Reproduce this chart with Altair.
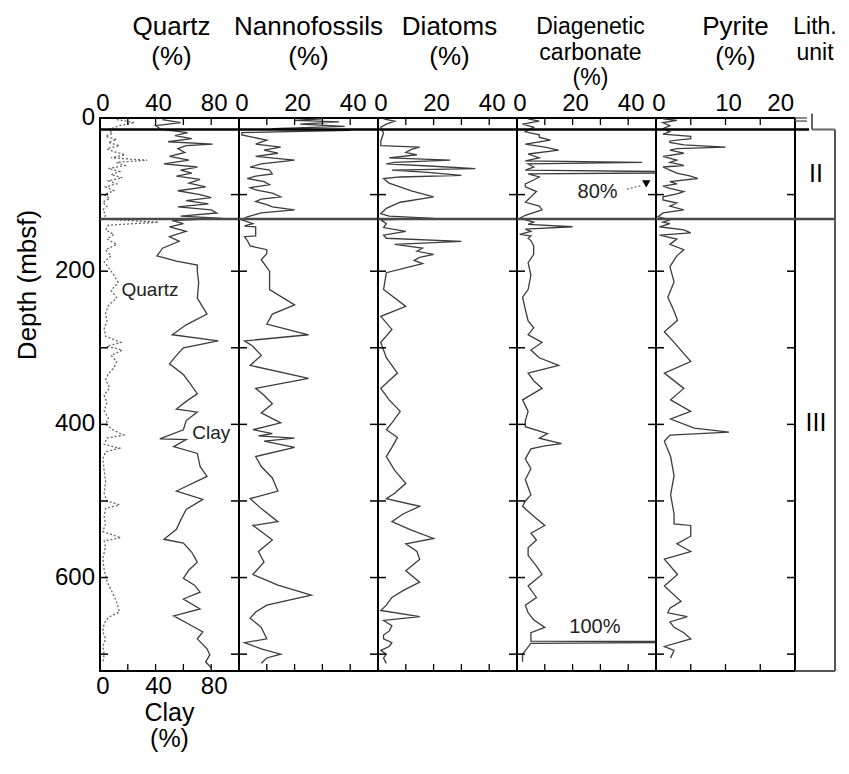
import altair as alt
import pandas as pd

FONT = "Liberation Sans"
DMAX = 722
H = 553
W = 139
LW = 40

# ---------------- data (depth mbsf, percent) ----------------
clay = [(2,45),(6,58),(10,40),(15,44),(19,63),(23,54),(27,66),(31,49),(34,81),(36,62),(40,56),(45,61),
        (50,50),(55,64),(60,46),(64,70),(68,58),(72,66),(76,55),(80,72),(85,64),(90,76),(95,56),(100,72),
        (104,80),(108,62),(112,78),(116,56),(120,80),(124,84),(128,58),(131,88),(134,52),(138,60),(142,50),
        (148,62),(155,50),(161,57),(170,45),(180,41),(187,55),(192,70),(200,70),(215,71),(235,70),(256,77),
        (270,62),(283,52),(291,85),(300,60),(310,55),(321,50),(335,60),(347,65),(360,70),(370,62),(380,55),
        (384,70),(395,62),(407,60),(419,43),(420,62),(429,53),(438,70),(455,72),(468,77),(487,55),(498,74),
        (511,62),(525,58),(537,55),(550,46),(555,60),(567,66),(580,70),(590,64),(601,60),(610,68),(619,72),
        (628,60),(641,72),(650,53),(662,65),(671,74),(680,70),(693,77),(701,79),(710,76),(718,80)]

quartz = [(2,12),(6,25),(10,14),(15,6),(20,9),(24,4),(28,12),(32,6),(36,14),(40,5),(44,10),(48,18),
          (52,8),(55,34),(58,12),(62,18),(66,6),(70,14),(74,8),(78,16),(82,6),(86,12),(90,4),(95,10),
          (100,3),(105,7),(110,2),(115,5),(120,2),(126,4),(132,3),(136,42),(140,6),(146,4),(152,10),
          (158,5),(165,12),(172,4),(180,8),(188,3),(195,6),(205,10),(215,13),(225,8),(235,12),(245,6),
          (255,4),(265,5),(275,3),(285,4),(293,15),(298,5),(303,16),(310,8),(318,12),(326,10),(334,6),
          (342,4),(352,7),(362,3),(372,5),(382,3),(392,6),(400,4),(408,10),(414,17),(418,5),(426,3),
          (431,14),(436,4),(445,2),(460,3),(475,4),(490,3),(500,5),(505,14),(510,4),(520,3),(530,4),
          (540,2),(548,15),(552,3),(560,4),(575,2),(590,3),(605,5),(620,9),(632,12),(645,14),(652,6),
          (660,3),(670,2),(680,4),(690,2),(700,3),(712,2)]

nanno = [(1,30),(3,20),(5,36),(8,22),(11,38),(14,12),(16,40),(19,1),(22,1),(29,10),(34,6),(38,15),
         (42,9),(46,14),(50,6),(55,20),(60,8),(64,4),(68,11),(73,12),(76,6),(79,3),(83,9),(87,11),(91,4),
         (94,6),(98,12),(103,15),(106,8),(109,6),(113,10),(116,12),(120,20),(124,8),(129,3),(133,1),
         (138,5),(141,2),(142,6),(154,6),(155,2),(160,3),(167,4),(172,10),(177,10),(185,8),(200,11),
         (224,11),(244,20),(256,12),(269,10),(283,25),(291,2),(298,5),(310,8),(323,4),(340,25),(353,6),
         (362,9),(373,12),(385,8),(398,15),(407,5),(412,12),(415,7),(418,20),(422,9),(430,20),(442,6),
         (455,8),(470,12),(487,14),(497,4),(510,8),(527,14),(532,5),(540,8),(551,12),(566,7),(580,9),
         (596,5),(610,14),(623,26),(636,10),(645,6),(653,4),(665,8),(680,10),(685,2),(693,8),(700,15),
         (705,10),(712,8)]

diatom = [(1,2),(4,6),(8,3),(12,1),(20,2),(30,1),(36,1),(38,15),(41,12),(45,10),(48,14),(52,4),(55,26),
          (58,6),(60,3),(63,20),(66,35),(68,5),(71,18),(75,30),(77,8),(79,2),(85,4),(95,12),(103,20),
          (110,8),(118,3),(125,1),(128,4),(131,20),(133,1),(138,3),(143,2),(148,10),(153,2),(157,3),
          (161,30),(165,6),(170,16),(174,14),(178,20),(182,15),(186,13),(190,16),(202,3),(224,2),(246,10),
          (259,1),(276,5),(293,1),(313,3),(333,7),(353,1),(368,4),(383,8),(398,5),(407,3),(417,7),(430,5),
          (442,3),(460,6),(477,10),(490,6),(497,3),(507,15),(517,9),(527,5),(538,12),(549,20),(556,10),
          (566,14),(576,15),(591,10),(606,15),(617,9),(626,5),(636,3),(643,1),(651,15),(656,2),(663,5),
          (670,4),(675,2),(680,2),(685,5),(690,4),(695,1),(700,3),(705,2),(712,3)]

carb = [(1,4),(4,8),(8,2),(12,6),(18,3),(22,8),(25,8),(29,12),(34,3),(38,10),(42,15),(47,4),(52,8),
        (56,3),(58,45),(60,4),(64,6),(68,3),(71,80),(73,4),(77,8),(81,6),(86,3),(90,3),(96,7),(103,5),
        (110,3),(115,8),(120,9),(127,3),(131,1),(136,6),(139,4),(142,20),(145,3),(148,5),(152,1),(154,5),
        (157,4),(160,5),(167,6),(178,6),(189,4),(205,5),(224,4),(234,2),(250,3),(265,4),(274,6),(283,4),
        (293,9),(303,5),(313,8),(323,15),(333,4),(343,6),(353,9),(368,2),(383,4),(395,3),(403,3),(412,11),
        (418,8),(425,16),(428,10),(432,5),(445,3),(458,5),(472,3),(482,4),(492,5),(500,3),(507,2),(520,6),
        (532,10),(542,5),(551,7),(561,4),(571,4),(585,7),(596,9),(611,4),(626,7),(636,3),(646,4),(655,6),
        (665,10),(672,5),(680,5),(683,5),(684,100),(686,5),(700,2),(710,2)]

pyrite = [(1,1),(3,3),(6,1),(10,2),(14,1),(18,2),(21,1),(24,5),(27,5),(30,2),(32,2),(35,4),(38,10),
          (40,3),(42,2),(46,4),(50,1),(55,3),(58,2),(62,4),(64,1),(68,2),(72,3),(76,5),(79,6),(83,2),
          (86,3),(89,1),(92,2),(96,4),(99,3),(103,1),(107,1),(111,3),(115,2),(120,4),(124,1),(129,0.3),
          (133,2),(136,1),(138,2),(142,0.5),(146,4),(150,5),(153,0.5),(158,3),(165,2),(172,4),(180,3),
          (194,2),(214,2.6),(234,1.7),(250,2.5),(264,3.1),(279,1.2),(293,2.6),(318,5),(333,1.2),(353,4),
          (368,2.1),(383,5),(393,2.1),(405,5.5),(410,10.5),(414,2),(422,1.2),(442,2.1),(467,2.6),
          (492,2.1),(517,2.6),(530,2.6),(532,5),(546,5),(556,3),(566,5),(576,1.2),(596,3.1),(611,1.2),
          (631,3.6),(640,2),(646,1.7),(651,4.5),(658,2),(665,2.6),(672,4),(680,5),(690,1.2),(695,2.6),
          (705,2.1)]

depth_ticks = [100, 200, 300, 400, 500, 600, 700]
depth_labels = [0, 200, 400, 600]
unit_tops = [15, 132]
lith_units = [("II", 73), ("III", 398)]

quartz_labels = [0, 40, 80]
quartz_ticks = [20, 40, 60, 80]
pct50_labels = [0, 20, 40]
pct50_ticks = [10, 20, 30, 40]
pyrite_labels = [0, 10]
pyrite_last_label = [20]
pyrite_ticks = [5, 10, 15]

titles = {
    "quartz": "Quartz\n(%)",
    "nanno": "Nannofossils\n(%)",
    "diatom": "Diatoms\n(%)",
    "carb": "Diagenetic\ncarbonate\n(%)",
    "pyrite": "Pyrite\n(%)",
    "lith": "Lith.\nunit",
    "clay": "Clay\n(%)",
    "depth": "Depth (mbsf)",
}

# ---------------- helpers ----------------
def df(pairs):
    return pd.DataFrame(pairs, columns=["depth", "value"])

yscale = alt.Scale(domain=[0, DMAX], reverse=True, nice=False, zero=False)


def Yd(field="depth:Q"):
    return alt.Y(field, scale=yscale, axis=None)


def Xv(domain, field="value:Q"):
    return alt.X(field, scale=alt.Scale(domain=domain, nice=False, zero=False), axis=None)


def labels_layer(vals, domain, y, baseline, align="center", dx=3):
    return alt.Chart(pd.DataFrame({"t": vals})).mark_text(
        font=FONT, fontSize=24, color="black", baseline=baseline, align=align, dx=dx).encode(
        x=Xv(domain, "t:Q"), y=alt.value(y), text=alt.Text("t:Q", format="d"))


def frame_layers(domain, ticks, width=W):
    tdf = pd.DataFrame({"t": ticks})
    ddf = pd.DataFrame({"d": depth_ticks})
    top_t = alt.Chart(tdf).mark_rule(color="black", strokeWidth=1.3).encode(
        x=Xv(domain, "t:Q"), y=alt.value(0), y2=alt.value(7))
    bot_t = alt.Chart(tdf).mark_rule(color="black", strokeWidth=1.3).encode(
        x=Xv(domain, "t:Q"), y=alt.value(H - 7), y2=alt.value(H))
    left_t = alt.Chart(ddf).mark_rule(color="black", strokeWidth=1.5).encode(
        y=Yd("d:Q"), x=alt.value(0), x2=alt.value(8))
    right_t = alt.Chart(ddf).mark_rule(color="black", strokeWidth=1.5).encode(
        y=Yd("d:Q"), x=alt.value(width - 8), x2=alt.value(width))
    b1 = alt.Chart(pd.DataFrame({"d": unit_tops[:1]})).mark_rule(color="black", strokeWidth=2.5).encode(
        y=Yd("d:Q"), x=alt.value(0), x2=alt.value(width))
    b2 = alt.Chart(pd.DataFrame({"d": unit_tops[1:]})).mark_rule(color="#4a4a4a", strokeWidth=2.5).encode(
        y=Yd("d:Q"), x=alt.value(0), x2=alt.value(width))
    return [top_t, bot_t, left_t, right_t, b1, b2]


def series_line(pairs, domain, dash=None, color="#3c3c3c"):
    kw = dict(color=color, strokeWidth=1.3, clip=True)
    if dash:
        kw["strokeDash"] = dash
    return alt.Chart(df(pairs)).mark_line(**kw).encode(
        x=Xv(domain), y=Yd(), order="depth:Q")


def head(key, lh, ytop, width=W, dx=0, size=26):
    return alt.Chart(pd.DataFrame({"t": [titles[key]]})).mark_text(
        font=FONT, fontSize=size, color="black", lineBreak="\n", lineHeight=lh,
        baseline="top", align="center", dx=dx).encode(
        x=alt.value(width / 2), y=alt.value(ytop), text="t:N")


def note(text, v, d, domain, size=19, align="center"):
    return alt.Chart(pd.DataFrame({"v": [v], "d": [d], "t": [text]})).mark_text(
        font=FONT, fontSize=size, color="#222", align=align).encode(
        x=Xv(domain, "v:Q"), y=Yd("d:Q"), text="t:N")


HEAD_Y = -104
LAB_Y = -2

# ---------------- panel 1 : quartz / clay ----------------
QD = [0, 100]
depth_lab = alt.Chart(pd.DataFrame({"d": depth_labels})).mark_text(
    font=FONT, fontSize=24, color="black", align="right", baseline="middle", dx=-5).encode(
    y=Yd("d:Q"), x=alt.value(0), text=alt.Text("d:Q", format="d"))
depth_title = alt.Chart(pd.DataFrame({"t": [titles["depth"]]})).mark_text(
    font=FONT, fontSize=26, color="black", angle=270, align="center", baseline="middle").encode(
    x=alt.value(-72), y=alt.value(167), text="t:N")
p1 = alt.layer(
    series_line(clay, QD),
    series_line(quartz, QD, dash=[2, 2], color="#666666"),
    *frame_layers(QD, quartz_ticks),
    labels_layer(quartz_labels, QD, LAB_Y, "bottom"),
    labels_layer(quartz_labels, QD, H + 4, "top"),
    head("clay", 26, H + 30, size=25),
    depth_lab, depth_title,
    note("Quartz", 36, 224, QD),
    note("Clay", 80, 411, QD),
    head("quartz", 30, HEAD_Y, dx=2),
).properties(width=W, height=H)

# ---------------- panel 2 : nannofossils ----------------
ND = [0, 50]
p2 = alt.layer(
    series_line(nanno, ND),
    *frame_layers(ND, pct50_ticks),
    labels_layer(pct50_labels, ND, LAB_Y, "bottom"),
    head("nanno", 30, HEAD_Y),
).properties(width=W, height=H)

# ---------------- panel 3 : diatoms ----------------
p3 = alt.layer(
    series_line(diatom, ND),
    *frame_layers(ND, pct50_ticks),
    labels_layer(pct50_labels, ND, LAB_Y, "bottom"),
    head("diatom", 30, HEAD_Y, dx=2),
).properties(width=W, height=H)

# ---------------- panel 4 : diagenetic carbonate ----------------
arrow = alt.Chart(pd.DataFrame({"v": [46.5], "d": [86]})).mark_point(
    shape="triangle-down", filled=True, color="black", size=70, opacity=1).encode(
    x=Xv(ND, "v:Q"), y=Yd("d:Q"))
lead = alt.Chart(pd.DataFrame({"v": [39.5], "d": [93], "v2": [45], "d2": [88]})).mark_rule(
    color="#444", strokeWidth=1, strokeDash=[2, 2]).encode(
    x=Xv(ND, "v:Q"), y=Yd("d:Q"), x2="v2:Q", y2="d2:Q")
p4 = alt.layer(
    series_line(carb, ND),
    *frame_layers(ND, pct50_ticks),
    labels_layer(pct50_labels, ND, LAB_Y, "bottom"),
    note("80%", 29, 96, ND, size=20),
    arrow, lead,
    note("100%", 28, 664, ND, size=20),
    head("carb", 25.5, HEAD_Y + 2, dx=4, size=23),
).properties(width=W, height=H)

# ---------------- panel 5 : pyrite ----------------
PD = [0, 20]
p5 = alt.layer(
    series_line(pyrite, PD),
    *frame_layers(PD, pyrite_ticks),
    labels_layer(pyrite_labels, PD, LAB_Y, "bottom"),
    labels_layer(pyrite_last_label, PD, LAB_Y, "bottom", align="right", dx=-1),
    head("pyrite", 30, HEAD_Y, dx=10),
).properties(width=W, height=H)

# ---------------- panel 6 : lithologic unit ----------------
ldf = pd.DataFrame(lith_units, columns=["u", "d"])
lith_text = alt.Chart(ldf).mark_text(font=FONT, fontSize=25, color="black").encode(
    y=Yd("d:Q"), x=alt.value(21), text="u:N")
ub1 = alt.Chart(pd.DataFrame({"d": unit_tops[:1]})).mark_rule(color="black", strokeWidth=2.5).encode(
    y=Yd("d:Q"), x=alt.value(0), x2=alt.value(14))
ub2 = alt.Chart(pd.DataFrame({"d": unit_tops[1:]})).mark_rule(color="#4a4a4a", strokeWidth=2.5).encode(
    y=Yd("d:Q"), x=alt.value(0), x2=alt.value(LW))
right_border = alt.Chart(pd.DataFrame({"a": [15], "b": [DMAX]})).mark_rule(color="#555", strokeWidth=2).encode(
    y=Yd("a:Q"), y2="b:Q", x=alt.value(LW))
bottom_border = alt.Chart(pd.DataFrame({"d": [DMAX]})).mark_rule(color="#555", strokeWidth=2).encode(
    y=Yd("d:Q"), x=alt.value(0), x2=alt.value(LW))
top_lines = alt.Chart(pd.DataFrame({"d": [0, 4]})).mark_rule(color="#666", strokeWidth=1.5).encode(
    y=Yd("d:Q"), x=alt.value(0), x2=alt.value(12))
bracket_v = alt.Chart(pd.DataFrame({"a": [-6], "b": [15]})).mark_rule(color="#666", strokeWidth=2).encode(
    y=Yd("a:Q"), y2="b:Q", x=alt.value(17))
bracket_h = alt.Chart(pd.DataFrame({"d": [15]})).mark_rule(color="#666", strokeWidth=2).encode(
    y=Yd("d:Q"), x=alt.value(17), x2=alt.value(LW))
p6 = alt.layer(lith_text, ub1, ub2, right_border, bottom_border, top_lines, bracket_v, bracket_h,
               head("lith", 25.5, HEAD_Y + 2, width=LW, size=23)).properties(
    width=LW, height=H, view=alt.ViewBackground(stroke="transparent"))

chart = alt.hconcat(p1, p2, p3, p4, p5, p6, spacing=0, bounds="flush").properties(
    padding={"left": 6, "top": 5, "right": 0, "bottom": 0}
).configure_view(stroke="black", strokeWidth=2)

chart.save("out.html", embed_options={"renderer": "svg", "actions": False})
